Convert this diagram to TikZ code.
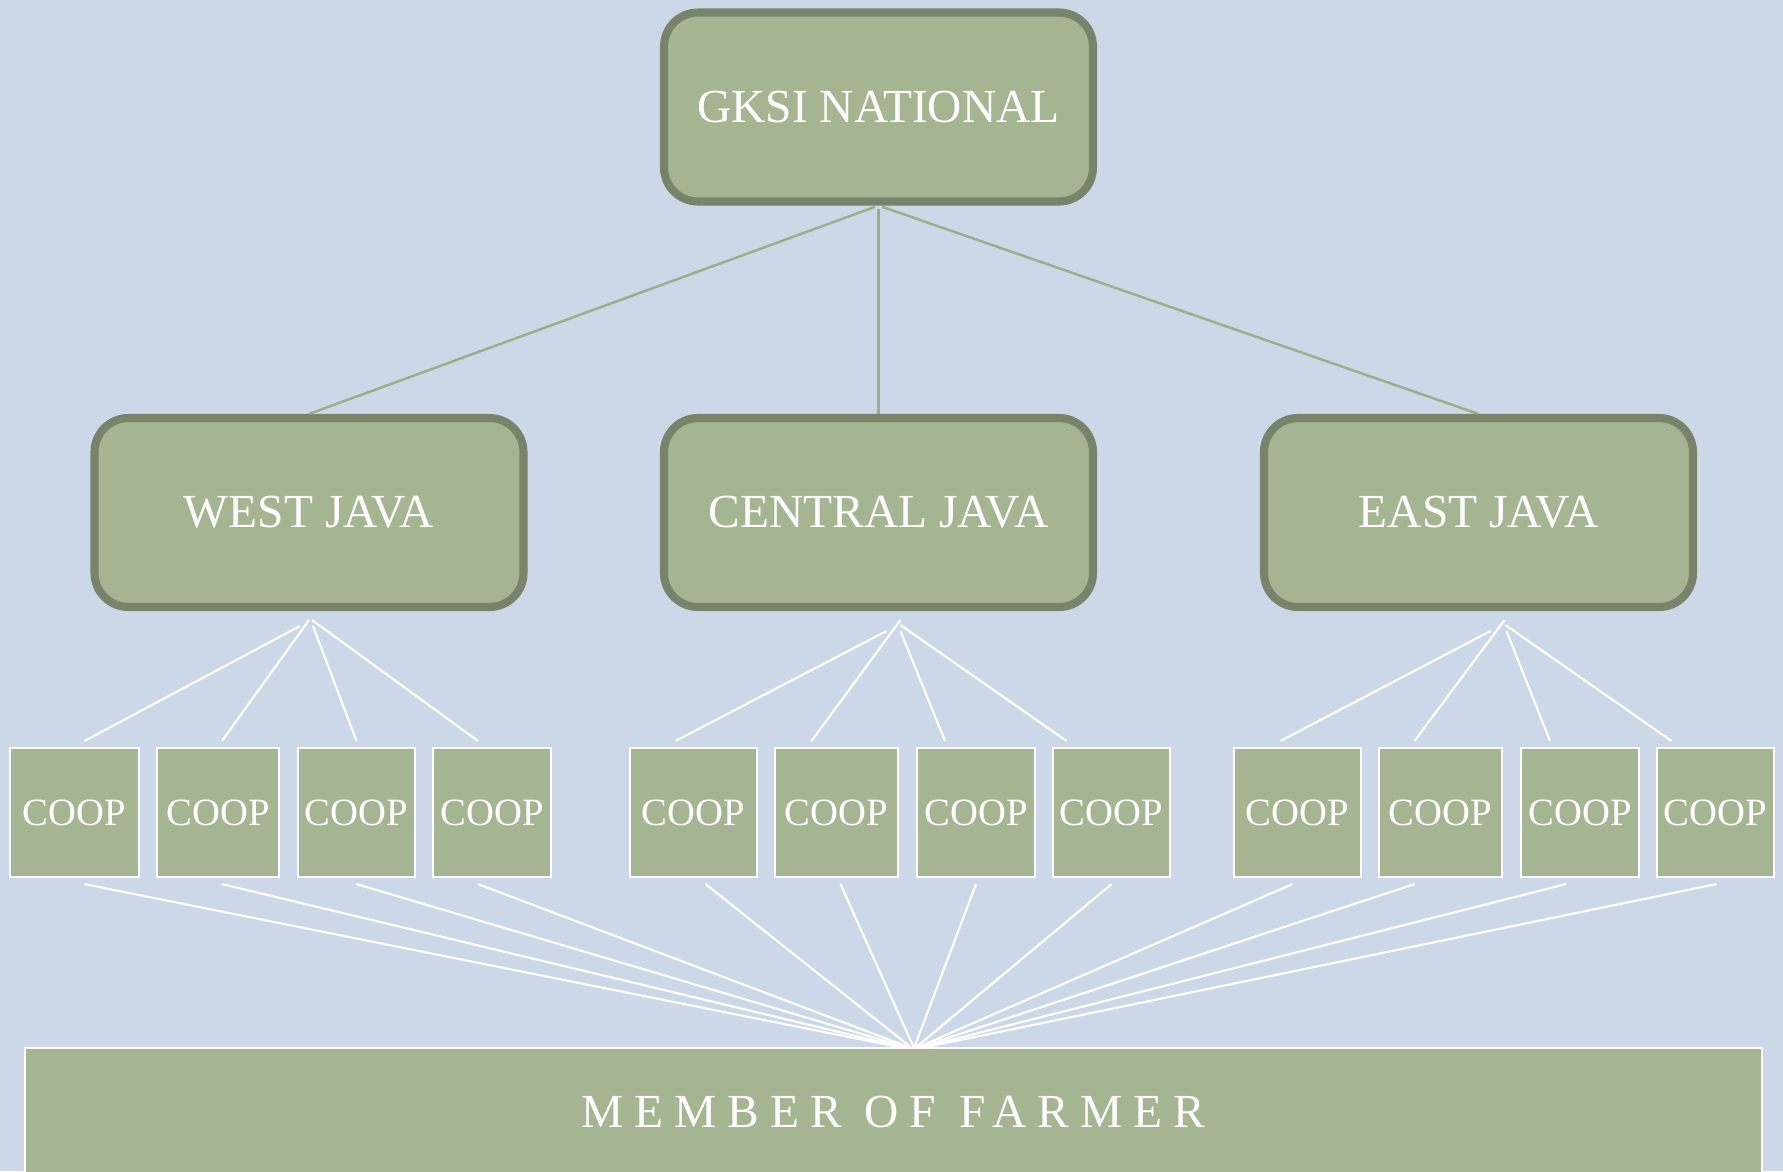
\documentclass[tikz,border=0pt]{standalone}
\usepackage{fontspec}
\setmainfont{Liberation Serif}
\newfontfamily\spacedfont[LetterSpace=23]{Liberation Serif}
\definecolor{bgblue}{HTML}{CCD8E8}
\definecolor{sage}{HTML}{A5B491}
\definecolor{darkgreen}{HTML}{77836A}
\definecolor{linegreen}{HTML}{9AAF88}
\tikzset{   province/.style = {rectangle, rounded corners = 0.34cm, draw = darkgreen, line width = 2.3pt, fill = sage, text = white, minimum width = 4.29cm, minimum height = 1.89cm, font = \fontsize{13.5}{16}\selectfont},
            coop/.style = {rectangle, draw = white, line width = 0.6pt, fill = sage, text = white, inner sep = 0pt, minimum height = 1.29cm, font = \fontsize{11}{13}\selectfont},
            farmer/.style = {rectangle, draw = white, line width = 0.6pt, fill = sage, text = white, minimum width = 17.37cm, minimum height = 1.28cm, font = \spacedfont\fontsize{13.5}{16}\selectfont}}
\tikzset{upline/.style = {draw = linegreen, line width = 0.7pt, shorten <= 1.1pt},
         downline/.style = {draw = white, line width = 0.6pt}}

\begin{document}
\begin{tikzpicture}
                        \useasboundingbox (0,0) rectangle (17.83,-11.71);
                        \clip (0,0) rectangle (17.83,-11.71);
                        \fill[bgblue] (0,0) rectangle (17.83,-11.71);
                        % top and provinces
                        \node[province] (gksi) at (8.785,-1.07) {GKSI NATIONAL};
                        \node[province] (west) at (3.09,-5.125) {WEST JAVA};
                        \node[province] (central) at (8.785,-5.125) {CENTRAL JAVA};
                        \node[province] (east) at (14.785,-5.125) {EAST JAVA};
                        % cooperatives
                        \node[coop, minimum width = 1.29cm] (w1) at (0.745,-8.125) {COOP};
                        \node[coop, minimum width = 1.22cm] (w2) at (2.18,-8.125) {COOP};
                        \node[coop, minimum width = 1.17cm] (w3) at (3.565,-8.125) {COOP};
                        \node[coop, minimum width = 1.18cm] (w4) at (4.92,-8.125) {COOP};
                        \node[coop, minimum width = 1.27cm] (c1) at (6.935,-8.125) {COOP};
                        \node[coop, minimum width = 1.23cm] (c2) at (8.365,-8.125) {COOP};
                        \node[coop, minimum width = 1.18cm] (c3) at (9.76,-8.125) {COOP};
                        \node[coop, minimum width = 1.17cm] (c4) at (11.115,-8.125) {COOP};
                        \node[coop, minimum width = 1.27cm] (e1) at (12.975,-8.125) {COOP};
                        \node[coop, minimum width = 1.23cm] (e2) at (14.405,-8.125) {COOP};
                        \node[coop, minimum width = 1.18cm] (e3) at (15.80,-8.125) {COOP};
                        \node[coop, minimum width = 1.17cm] (e4) at (17.155,-8.125) {COOP};
                        % members
                        \node[farmer] (member) at (8.935,-11.12) {MEMBER OF FARMER};
                        \begin{scope}
                        \draw[upline] (gksi.south) -- (west.north);
                        \draw[upline] (gksi.south) -- (central.north);
                        \draw[upline] (gksi.south) -- (east.north);
                        \end{scope}
                        \begin{scope}[downline]
                        \draw ([xshift=-0.09cm, yshift=-0.15cm]west.south) -- ([xshift=0.10cm, yshift=0.06cm]w1.north);
                        \draw ([yshift=-0.09cm]west.south) -- ([xshift=0.04cm, yshift=0.06cm]w2.north);
                        \draw ([xshift=0.04cm, yshift=-0.15cm]west.south) -- ([yshift=0.06cm]w3.north);
                        \draw ([xshift=0.03cm, yshift=-0.09cm]west.south) -- ([xshift=-0.14cm, yshift=0.06cm]w4.north);
                        \draw ([xshift=0.08cm, yshift=-0.2cm]central.south) -- ([xshift=-0.18cm, yshift=0.06cm]c1.north);
                        \draw ([xshift=0.22cm, yshift=-0.09cm]central.south) -- ([xshift=-0.25cm, yshift=0.06cm]c2.north);
                        \draw ([xshift=0.22cm, yshift=-0.2cm]central.south) -- ([xshift=-0.31cm, yshift=0.06cm]c3.north);
                        \draw ([xshift=0.22cm, yshift=-0.14cm]central.south) -- ([xshift=-0.45cm, yshift=0.06cm]c4.north);
                        \draw ([xshift=0.12cm, yshift=-0.2cm]east.south) -- ([xshift=-0.17cm, yshift=0.06cm]e1.north);
                        \draw ([xshift=0.26cm, yshift=-0.09cm]east.south) -- ([xshift=-0.26cm, yshift=0.06cm]e2.north);
                        \draw ([xshift=0.28cm, yshift=-0.2cm]east.south) -- ([xshift=-0.30cm, yshift=0.06cm]e3.north);
                        \draw ([xshift=0.27cm, yshift=-0.14cm]east.south) -- ([xshift=-0.44cm, yshift=0.06cm]e4.north);
                        \end{scope}
                        \begin{scope}[downline]
                        \draw ([xshift=0.10cm, yshift=-0.06cm]w1.south) -- ([xshift=0.05cm]member.north);
                        \draw ([xshift=0.04cm, yshift=-0.06cm]w2.south) -- ([xshift=0.08cm]member.north);
                        \draw ([yshift=-0.06cm]w3.south) -- ([xshift=0.12cm]member.north);
                        \draw ([xshift=-0.14cm, yshift=-0.06cm]w4.south) -- ([xshift=0.15cm]member.north);
                        \draw ([xshift=0.12cm, yshift=-0.06cm]c1.south) -- ([xshift=0.17cm]member.north);
                        \draw ([xshift=0.04cm, yshift=-0.06cm]c2.south) -- ([xshift=0.2cm]member.north);
                        \draw ([yshift=-0.06cm]c3.south) -- ([xshift=0.21cm]member.north);
                        \draw ([yshift=-0.06cm]c4.south) -- ([xshift=0.23cm]member.north);
                        \draw ([xshift=-0.05cm, yshift=-0.06cm]e1.south) -- ([xshift=0.25cm]member.north);
                        \draw ([xshift=-0.26cm, yshift=-0.06cm]e2.south) -- ([xshift=0.27cm]member.north);
                        \draw ([xshift=-0.14cm, yshift=-0.06cm]e3.south) -- ([xshift=0.3cm]member.north);
                        \draw ([xshift=0.01cm, yshift=-0.06cm]e4.south) -- ([xshift=0.33cm]member.north);
                        \end{scope}
\end{tikzpicture}
\end{document}
